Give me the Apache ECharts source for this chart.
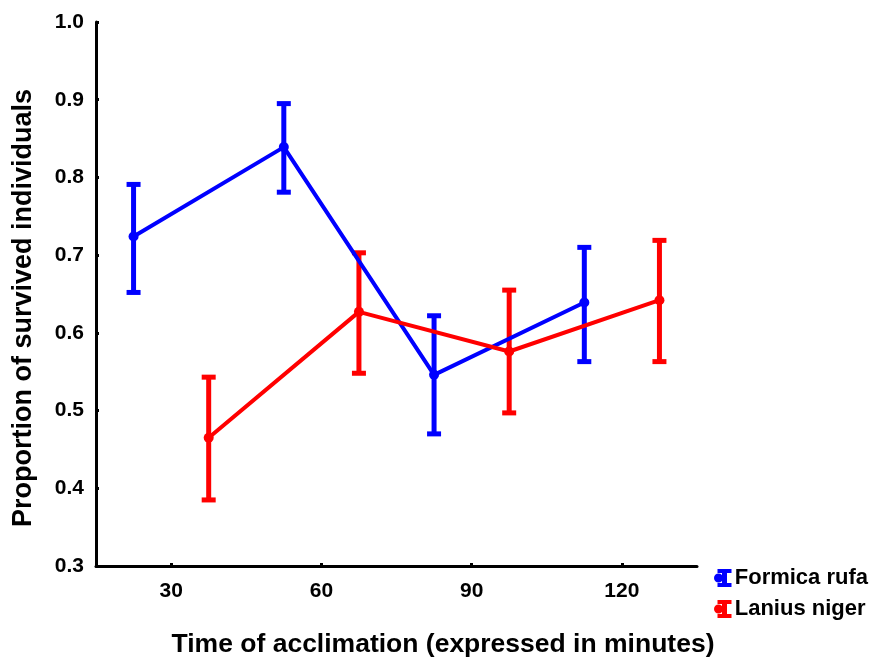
<!DOCTYPE html>
<html>
<head>
<meta charset="utf-8">
<script src="https://cdn.jsdelivr.net/npm/echarts@6/dist/echarts.min.js"></script>
<style>
html, body { margin: 0; padding: 0; background: #fff; }
#chart { width: 879px; height: 661px; }
</style>
</head>
<body>
<div id="chart"></div>
<script>
// time of acclimation (minutes), the two species are drawn side by side around each step
var rufaMinutes = [22.5, 52.5, 82.5, 112.5];
var nigerMinutes = [37.5, 67.5, 97.5, 127.5];
var xTicks = [30, 60, 90, 120];

// Formica rufa
var rufaMean = [0.724, 0.839, 0.546, 0.639];
var rufaUpper = [0.791, 0.895, 0.622, 0.710];
var rufaLower = [0.652, 0.781, 0.470, 0.563];

// Lanius niger
var nigerMean = [0.465, 0.627, 0.576, 0.642];
var nigerUpper = [0.543, 0.703, 0.655, 0.719];
var nigerLower = [0.385, 0.548, 0.497, 0.563];

var BLUE = '#0000ff';
var RED = '#ff0000';
var textFont = '"Liberation Sans", Arial, sans-serif';
// little error bar with a dot, used as legend symbol
var barIcon = 'path://M4,0H18V4H4Z M8.5,4H13.5V14H8.5Z M4,14H18V18H4Z M0.5,9A4.5,4.5 0 1 1 9.5,9A4.5,4.5 0 1 1 0.5,9Z';

function points(xs, ys) {
    var out = [];
    for (var i = 0; i < xs.length; i++) out.push([xs[i], ys[i]]);
    return out;
}
function bars(xs, lo, hi) {
    var out = [];
    for (var i = 0; i < xs.length; i++) out.push([xs[i], lo[i], hi[i]]);
    return out;
}
function errorBar(color) {
    return function (params, api) {
        var x = api.value(0);
        var lo = api.coord([x, api.value(1)]);
        var hi = api.coord([x, api.value(2)]);
        var half = 7, th = 5;
        var st = { fill: color };
        return {
            type: 'group',
            children: [
                { type: 'rect', shape: { x: lo[0] - 2.5, y: hi[1], width: 5, height: lo[1] - hi[1] }, style: st },
                { type: 'rect', shape: { x: hi[0] - half, y: hi[1] - th / 2, width: half * 2, height: th }, style: st },
                { type: 'rect', shape: { x: lo[0] - half, y: lo[1] - th / 2, width: half * 2, height: th }, style: st }
            ]
        };
    };
}

var myChart = echarts.init(document.getElementById('chart'), null, { renderer: 'canvas' });
var option = {
    backgroundColor: '#fff',
    animation: false,
    grid: { left: 96, right: 182, top: 22, bottom: 95, containLabel: false, outerBoundsMode: 'none' },
    legend: {
        orient: 'vertical',
        left: 714,
        top: 567,
        padding: 0,
        itemWidth: 18,
        itemHeight: 18,
        itemGap: 9,
        textStyle: { fontFamily: textFont, fontWeight: 'bold', fontSize: 22, color: '#000', padding: [0, 0, 0, -2] },
        data: [
            { name: 'Formica rufa', icon: barIcon, itemStyle: { color: BLUE } },
            { name: 'Lanius niger', icon: barIcon, itemStyle: { color: RED } }
        ]
    },
    xAxis: {
        type: 'value',
        min: 15,
        max: 135,
        name: 'Time of acclimation (expressed in minutes)',
        nameLocation: 'middle',
        nameGap: 65,
        nameTextStyle: { fontFamily: textFont, fontWeight: 'bold', fontSize: 26.5, color: '#000', padding: [0, 0, 0, 93] },
        axisLine: { lineStyle: { color: '#000', width: 3 } },
        axisTick: { inside: true, length: 3, lineStyle: { color: '#000', width: 3 }, customValues: xTicks },
        axisLabel: { customValues: xTicks, margin: 15, fontFamily: textFont, fontWeight: 'bold', fontSize: 21, color: '#000' },
        splitLine: { show: false }
    },
    yAxis: {
        type: 'value',
        min: 0.3,
        max: 1.0,
        interval: 0.1,
        name: 'Proportion of survived individuals',
        nameLocation: 'middle',
        nameGap: 59,
        nameTextStyle: { fontFamily: textFont, fontWeight: 'bold', fontSize: 27, color: '#000', padding: [0, 28, 0, 0] },
        axisLine: { show: true, lineStyle: { color: '#000', width: 3 } },
        axisTick: { show: true, inside: true, length: 3, lineStyle: { color: '#000', width: 3 } },
        axisLabel: {
            margin: 12,
            fontFamily: textFont, fontWeight: 'bold', fontSize: 21, color: '#000',
            formatter: function (v) { return v.toFixed(1); }
        },
        splitLine: { show: false }
    },
    series: [
        {
            name: 'Lanius niger',
            type: 'custom',
            renderItem: errorBar(RED),
            data: bars(nigerMinutes, nigerLower, nigerUpper),
            encode: { x: 0, y: [1, 2] },
            itemStyle: { color: RED },
            z: 2
        },
        {
            name: 'Formica rufa',
            type: 'custom',
            renderItem: errorBar(BLUE),
            data: bars(rufaMinutes, rufaLower, rufaUpper),
            encode: { x: 0, y: [1, 2] },
            itemStyle: { color: BLUE },
            z: 2
        },
        {
            name: 'Formica rufa',
            type: 'line',
            data: points(rufaMinutes, rufaMean),
            symbol: 'circle',
            symbolSize: 10,
            lineStyle: { color: BLUE, width: 4 },
            itemStyle: { color: BLUE },
            z: 3
        },
        {
            name: 'Lanius niger',
            type: 'line',
            data: points(nigerMinutes, nigerMean),
            symbol: 'circle',
            symbolSize: 10,
            lineStyle: { color: RED, width: 4 },
            itemStyle: { color: RED },
            z: 4
        }
    ]
};
myChart.setOption(option);
</script>
</body>
</html>
